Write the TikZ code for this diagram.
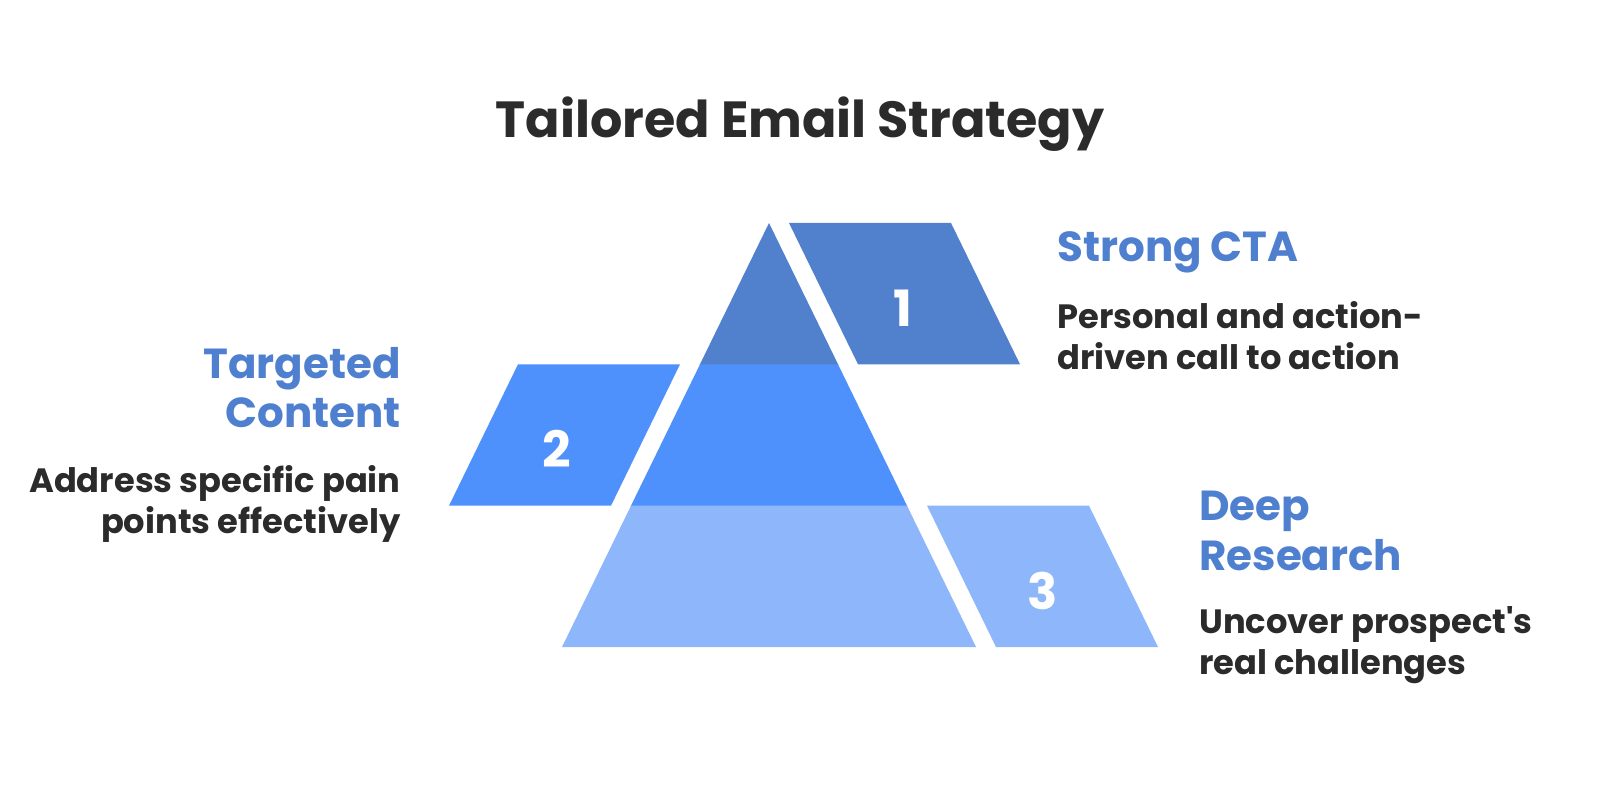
\documentclass[tikz,border=0pt]{standalone}
\usepackage{fontspec}
\setmainfont{Poppins}
\definecolor{tierone}{HTML}{5181CD}
\definecolor{tiertwo}{HTML}{4F91FC}
\definecolor{tierthree}{HTML}{8EB7FB}
\definecolor{headblue}{HTML}{4F80D0}
\definecolor{inkdark}{HTML}{2B2B2B}

\begin{document}
\begin{tikzpicture}[x=0.5pt, y=-0.5pt,
    heading/.style={font=\fontsize{21}{24.75}\selectfont\bfseries, text=headblue, inner sep=0pt},
    body/.style={font=\fontsize{16.85}{20.5}\selectfont\bfseries, text=inkdark, inner sep=0pt},
    number/.style={font=\fontsize{25}{25}\selectfont\bfseries, text=white, inner sep=0pt}]
    \useasboundingbox[fill=white] (0,0) rectangle (1600,801);

    % Title
    \node[font=\fontsize{25.4}{30}\selectfont\bfseries, text=inkdark, inner sep=0pt, anchor=base] (title) at (800,138) {Tailored Email Strategy};

    % Pyramid (lower tiers overlap a little to hide the seam)
    \fill[tierone] (769,223) -- (838.4,365) -- (699.6,365) -- cycle;
    \fill[tiertwo] (700,364.3) -- (838,364.3) -- (907.3,506.3) -- (630.7,506.3) -- cycle;
    \fill[tierthree] (631,505.7) -- (907,505.7) -- (976,647) -- (562,647) -- cycle;

    % Side bands
    \fill[tierone] (789,223) -- (951,223) -- (1020,364.3) -- (858,364.3) -- cycle;
    \fill[tiertwo] (518,364.3) -- (680,364.3) -- (611,505.7) -- (449,505.7) -- cycle;
    \fill[tierthree] (927,505.7) -- (1089,505.7) -- (1158,647) -- (996,647) -- cycle;
    \node[number] (num1) at (903,308) {1};
    \node[number] (num2) at (557,449) {2};
    \node[number] (num3) at (1043,591) {3};

    % Strong CTA
    \node[heading, anchor=base west] (cta) at (1057,262) {Strong CTA};
    \node[body, anchor=base west, align=left] (ctatext) at (1057,370) {Personal and action-\\driven call to action};

    % Targeted Content
    \node[heading, anchor=base east, align=right] (content) at (401,428) {Targeted\\Content};
    \node[body, anchor=base east, align=right] (contenttext) at (401,533) {Address specific pain\\points effectively};

    % Deep Research
    \node[heading, anchor=base west, align=left] (research) at (1199,570) {Deep\\Research};
    \node[body, anchor=base west, align=left] (researchtext) at (1199,674) {Uncover prospect\textquotesingle s\\real challenges};
\end{tikzpicture}
\end{document}
